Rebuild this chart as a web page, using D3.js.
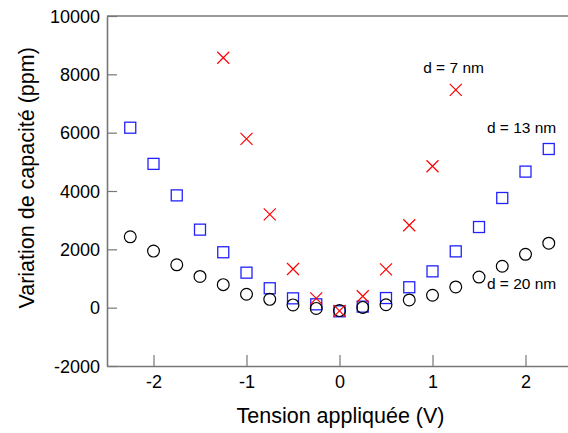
<!DOCTYPE html>
<html>
<head>
<meta charset="utf-8">
<script src="https://cdn.jsdelivr.net/npm/d3@7/dist/d3.min.js"></script>
<style>
  html, body { margin: 0; padding: 0; background: #fff; }
  svg { display: block; font-family: "Liberation Sans", Arial, Helvetica, sans-serif; }
</style>
</head>
<body>
<svg id="chart" width="568" height="433"></svg>
<script>
// ---- data ----
const voltages20 = [-2.25, -2, -1.75, -1.5, -1.25, -1, -0.75, -0.5, -0.25, 0, 0.25, 0.5, 0.75, 1, 1.25, 1.5, 1.75, 2, 2.25];
const values20 = [2430, 1940, 1470, 1070, 790, 460, 285, 95, -25, -100, 10, 100, 265, 425, 710, 1050, 1420, 1830, 2210];

const voltages13 = [-2.25, -2, -1.75, -1.5, -1.25, -1, -0.75, -0.5, -0.25, 0, 0.25, 0.5, 0.75, 1, 1.25, 1.5, 1.75, 2, 2.25];
const values13 = [6170, 4930, 3850, 2675, 1900, 1200, 665, 320, 115, -125, 35, 330, 700, 1245, 1930, 2765, 3760, 4665, 5440];

const voltages7 = [-1.25, -1, -0.75, -0.5, -0.25, 0, 0.25, 0.5, 0.75, 1, 1.25];
const values7 = [8570, 5785, 3200, 1325, 320, -110, 390, 1315, 2825, 4850, 7465];

const xTicks = [-2, -1, 0, 1, 2];
const yTicks = [-2000, 0, 2000, 4000, 6000, 8000, 10000];
const xTitle = "Tension appliquée (V)";
const yTitle = "Variation de capacité (ppm)";
const labels = [
  { text: "d = 7 nm", x: 0.90, y: 8050 },
  { text: "d = 13 nm", x: 1.585, y: 5980 },
  { text: "d = 20 nm", x: 1.585, y: 650 }
];

// ---- layout ----
const svg = d3.select("#chart");
const plotL = 107, plotR = 572, plotT = 16, plotB = 366;
const x = d3.scaleLinear().domain([-2.5, 2.5]).range([plotL, plotR]);
const y = d3.scaleLinear().domain([-2000, 10000]).range([plotB, plotT]);
const axisColor = "#777";

// axes
const xAxis = svg.append("g").attr("transform", `translate(0,${plotB})`)
  .call(d3.axisBottom(x).tickValues(xTicks).tickSizeInner(-11).tickSizeOuter(0).tickPadding(12).tickFormat(d => String(d)));
const yAxis = svg.append("g").attr("transform", `translate(${plotL},0)`)
  .call(d3.axisLeft(y).tickValues(yTicks).tickSizeInner(-10).tickSizeOuter(0).tickPadding(7).tickFormat(d => String(d)));
[xAxis, yAxis].forEach(g => {
  g.selectAll("path.domain").attr("stroke", axisColor).attr("stroke-width", 1.6);
  g.selectAll(".tick line").attr("stroke", axisColor).attr("stroke-width", 1.2);
  g.selectAll(".tick text").attr("fill", "#000").style("font-size", "18px")
   .style("font-family", '"Liberation Sans", Arial, sans-serif');
});
yAxis.selectAll(".tick text").attr("dy", "0.34em");
xAxis.selectAll(".tick text").attr("dy", "0.55em");
// top frame line
svg.append("line").attr("x1", x(-2.5)).attr("x2", x(2.5)).attr("y1", y(10000)).attr("y2", y(10000))
  .attr("stroke", axisColor).attr("stroke-width", 1.6);

// titles
svg.append("text").attr("x", (plotL + plotR) / 2 + 1).attr("y", 423)
  .attr("text-anchor", "middle").style("font-size", "21.5px").attr("fill", "#000").text(xTitle);
svg.append("text").attr("transform", `translate(34,${y(4450)}) rotate(-90)`)
  .attr("text-anchor", "middle").style("font-size", "21.5px").attr("fill", "#000").text(yTitle);

// series: squares (d = 13 nm)
const sq = 11;
svg.append("g").selectAll("rect").data(d3.zip(voltages13, values13)).join("rect")
  .attr("x", d => x(d[0]) - sq / 2).attr("y", d => y(d[1]) - sq / 2)
  .attr("width", sq).attr("height", sq)
  .attr("fill", "none").attr("stroke", "#2222ff").attr("stroke-width", 1.3);

// circles (d = 20 nm)
svg.append("g").selectAll("circle").data(d3.zip(voltages20, values20)).join("circle")
  .attr("cx", d => x(d[0])).attr("cy", d => y(d[1])).attr("r", 5.9)
  .attr("fill", "none").attr("stroke", "#000").attr("stroke-width", 1.2);

// crosses (d = 7 nm)
const cr = 6;
svg.append("g").selectAll("path").data(d3.zip(voltages7, values7)).join("path")
  .attr("d", d => {
    const cx = x(d[0]), cy = y(d[1]);
    return `M${cx - cr},${cy - cr}L${cx + cr},${cy + cr}M${cx - cr},${cy + cr}L${cx + cr},${cy - cr}`;
  })
  .attr("fill", "none").attr("stroke", "#ff0000").attr("stroke-width", 1.2);

// annotations
svg.append("g").selectAll("text").data(labels).join("text")
  .attr("x", d => x(d.x)).attr("y", d => y(d.y))
  .style("font-size", "15.5px").attr("fill", "#000").text(d => d.text);
</script>
</body>
</html>
